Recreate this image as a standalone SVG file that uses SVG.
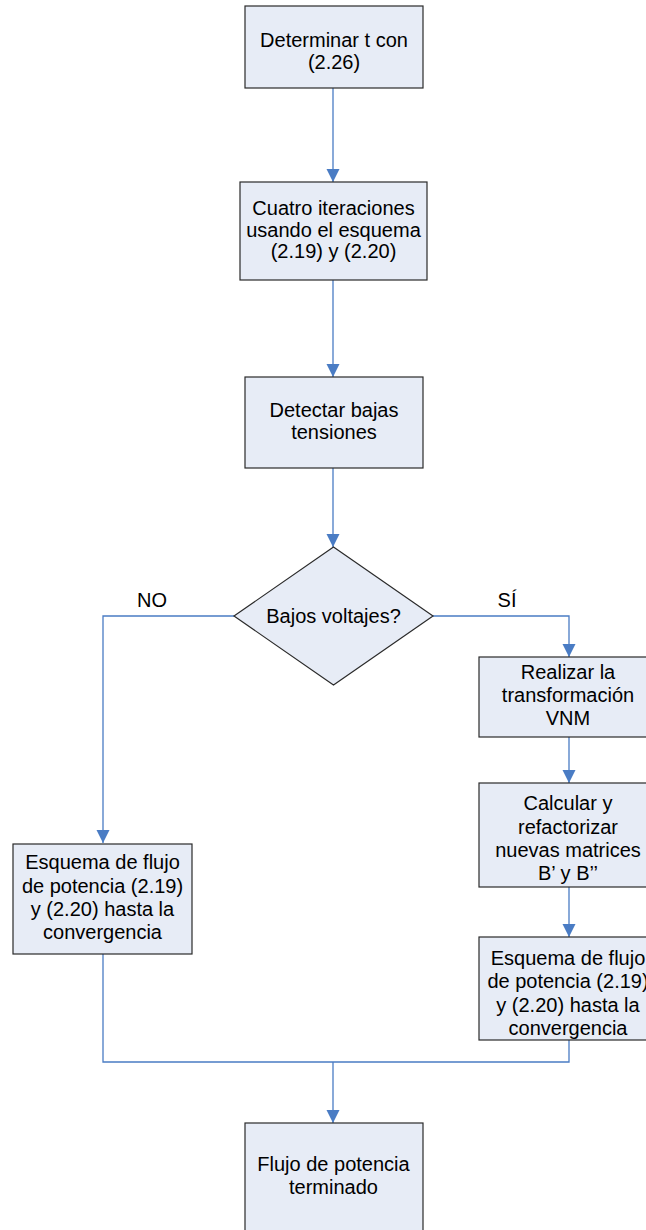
<svg xmlns="http://www.w3.org/2000/svg" width="646" height="1230" viewBox="0 0 646 1230">
<style>
.box{fill:#E7ECF6;stroke:#2a2a2a;stroke-width:1.2}
.t{font-family:"Liberation Sans",Arial,sans-serif;font-size:20px;fill:#000;text-anchor:middle}
.c{fill:none;stroke:#4A7CC4;stroke-width:1.3}
</style>
<defs>
<marker id="ah" markerUnits="userSpaceOnUse" markerWidth="14" markerHeight="14" viewBox="0 0 14 14" refX="13" refY="7" orient="auto">
<path d="M0,0.5 L13,7 L0,13.5 Z" fill="#4A7CC4"/>
</marker>
</defs>
<rect width="646" height="1230" fill="#fff"/>
<g id="connectors">
<path class="c" d="M333,88 V182" marker-end="url(#ah)"/>
<path class="c" d="M333,280 V377" marker-end="url(#ah)"/>
<path class="c" d="M333,468 V547" marker-end="url(#ah)"/>
<path class="c" d="M234,616 H103 V843" marker-end="url(#ah)"/>
<path class="c" d="M433,616 H569 V657" marker-end="url(#ah)"/>
<path class="c" d="M569,737 V783" marker-end="url(#ah)"/>
<path class="c" d="M569,887 V937" marker-end="url(#ah)"/>
<path class="c" d="M103,954 V1062 H569 V1040"/>
<path class="c" d="M333,1062 V1123" marker-end="url(#ah)"/>
</g>
<g id="n1">
<rect class="box" x="245" y="6" width="178" height="82"/>
<text class="t" x="334" y="47">Determinar t con</text>
<text class="t" x="334" y="69">(2.26)</text>
</g>
<g id="n2">
<rect class="box" x="240" y="182" width="187" height="98"/>
<text class="t" x="333.5" y="215">Cuatro iteraciones</text>
<text class="t" x="333.5" y="236.5">usando el esquema</text>
<text class="t" x="333.5" y="258">(2.19) y (2.20)</text>
</g>
<g id="n3">
<rect class="box" x="245" y="377" width="178" height="91"/>
<text class="t" x="334" y="417">Detectar bajas</text>
<text class="t" x="334" y="439">tensiones</text>
</g>
<g id="n4">
<polygon class="box" points="333.5,547 433,616 333.5,685 234,616"/>
<text class="t" x="333.5" y="623">Bajos voltajes?</text>
</g>
<text class="t" x="152" y="607">NO</text>
<text class="t" x="507" y="607">SÍ</text>
<g id="n5">
<rect class="box" x="479" y="657" width="179" height="80"/>
<text class="t" x="568" y="679">Realizar la</text>
<text class="t" x="568" y="702">transformación</text>
<text class="t" x="568" y="725">VNM</text>
</g>
<g id="n6">
<rect class="box" x="479" y="783" width="179" height="104"/>
<text class="t" x="568" y="810">Calcular y</text>
<text class="t" x="568" y="834">refactorizar</text>
<text class="t" x="568" y="857">nuevas matrices</text>
<text class="t" x="568" y="880">B’ y B’’</text>
</g>
<g id="n7">
<rect class="box" x="479" y="937" width="179" height="103"/>
<text class="t" x="568" y="965">Esquema de flujo</text>
<text class="t" x="568" y="988">de potencia (2.19)</text>
<text class="t" x="568" y="1011.5">y (2.20) hasta la</text>
<text class="t" x="568" y="1035">convergencia</text>
</g>
<g id="n8">
<rect class="box" x="13" y="844" width="179" height="110"/>
<text class="t" x="102.5" y="869">Esquema de flujo</text>
<text class="t" x="102.5" y="892.5">de potencia (2.19)</text>
<text class="t" x="102.5" y="915.5">y (2.20) hasta la</text>
<text class="t" x="102.5" y="938.5">convergencia</text>
</g>
<g id="n9">
<rect class="box" x="245" y="1123" width="178" height="120"/>
<text class="t" x="333.5" y="1171">Flujo de potencia</text>
<text class="t" x="333.5" y="1194">terminado</text>
</g>
</svg>
